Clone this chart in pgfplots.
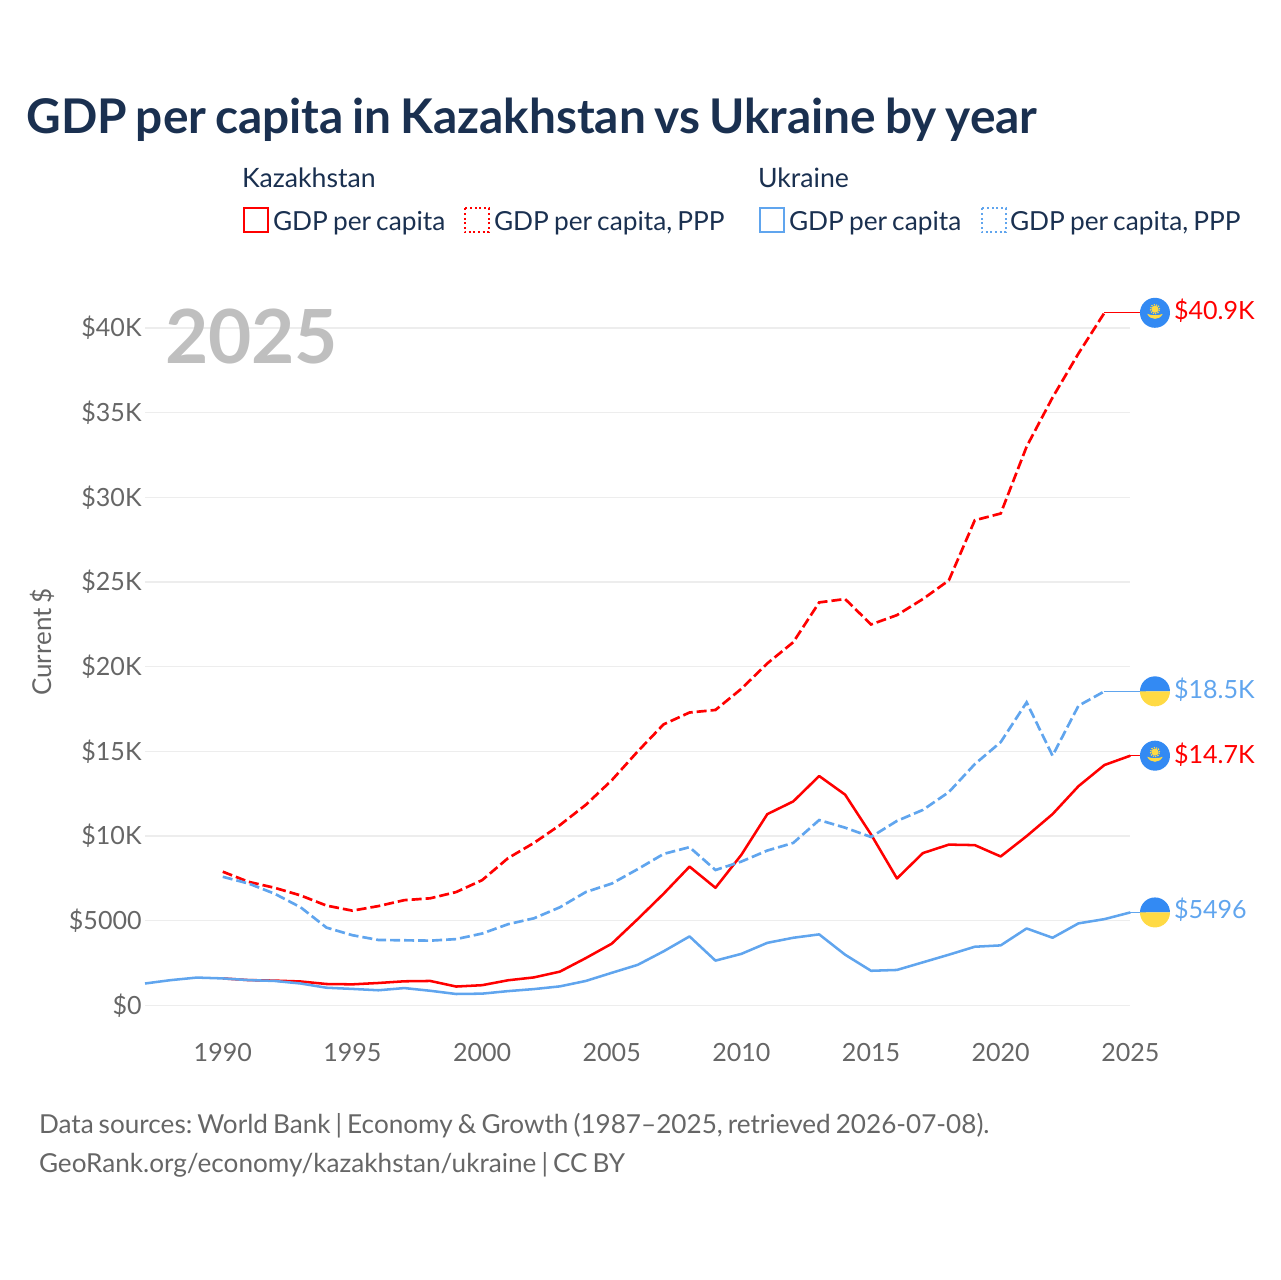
\documentclass[border=0pt]{standalone}
\usepackage{fontspec}
\setmainfont[WordSpace=0.75]{Lato}
\usepackage{pgfplots}
\pgfplotsset{compat=1.18}
\definecolor{navy}{HTML}{1A3050}
\definecolor{greytxt}{HTML}{666666}
\definecolor{skyline}{HTML}{60A5EE}
\definecolor{gridc}{HTML}{EDEDED}
\definecolor{flagblue}{HTML}{338AF3}
\definecolor{flagyellow}{HTML}{FFDA44}

\pgfdeclareplotmark{flagua}{%
  \pgfsetfillcolor{flagblue}\pgfpathmoveto{\pgfpoint{-11.25pt}{0pt}}%
  \pgfpatharc{180}{0}{11.25pt}\pgfpathclose\pgfusepathqfill
  \pgfsetfillcolor{flagyellow}\pgfpathmoveto{\pgfpoint{-11.25pt}{0pt}}%
  \pgfpatharc{180}{360}{11.25pt}\pgfpathclose\pgfusepathqfill
}
\pgfdeclareplotmark{flagkz}{%
  \pgfsetfillcolor{flagblue}\pgfpathcircle{\pgfpointorigin}{11.25pt}\pgfusepathqfill
  \pgfsetfillcolor{flagyellow}\pgfpathcircle{\pgfpoint{0pt}{2.7pt}}{2.7pt}\pgfusepathqfill
  \pgfsetstrokecolor{flagyellow}\pgfsetlinewidth{0.9pt}%
  \pgfsetdash{{0.9pt}{0.9pt}}{0pt}%
  \pgfpathcircle{\pgfpoint{0pt}{2.7pt}}{3.5pt}\pgfusepathqstroke
  \pgfpathmoveto{\pgfpoint{-5.8pt}{-0.8pt}}%
  \pgfpathcurveto{\pgfpoint{-3.5pt}{-5.8pt}}{\pgfpoint{3.5pt}{-5.8pt}}{\pgfpoint{5.8pt}{-0.8pt}}%
  \pgfpathcurveto{\pgfpoint{3pt}{-2.2pt}}{\pgfpoint{-3pt}{-2.2pt}}{\pgfpoint{-5.8pt}{-0.8pt}}%
  \pgfpathclose\pgfusepathqfill
}

\begin{document}
\frenchspacing
\begin{tikzpicture}
\path[use as bounding box] (0pt,0pt) rectangle (960pt,-960pt);
\begin{axis}[
  at={(108.75pt,-754.125pt)}, anchor=south west,
  scale only axis, width=739pt, height=533.5pt,
  xmin=1987, xmax=2025, ymin=0, ymax=42000,
  clip=false,
  scaled y ticks=false,
  axis line style={draw=none}, tick style={draw=none},
  ymajorgrids, grid style={gridc, line width=1pt},
  xtick={1990,1995,2000,2005,2010,2015,2020,2025},
  xticklabels={1990,1995,2000,2005,2010,2015,2020,2025},
  ytick={0,5000,10000,15000,20000,25000,30000,35000,40000},
  yticklabels={\$0,\$5000,\$10K,\$15K,\$20K,\$25K,\$30K,\$35K,\$40K},
  tick label style={font=\fontsize{18.8pt}{23pt}\selectfont, text=greytxt},
  xticklabel shift=25pt,
  yticklabel shift=-1pt,
]
% connectors to the end labels
\addplot[draw=red, line width=1pt] coordinates {(2024,40900)(2025.6,40900)};
\addplot[draw=skyline, line width=1pt] coordinates {(2024,18550)(2025.6,18550)};
\addplot[draw=red, line width=1pt] coordinates {(2025,14750)(2025.6,14750)};
\addplot[draw=skyline, line width=1pt] coordinates {(2025,5496)(2025.6,5496)};
% Kazakhstan GDP per capita
\addplot[red, line width=1.9pt, line join=round] coordinates {
(1990,1600)(1991,1500)(1992,1470)(1993,1420)(1994,1270)(1995,1250)(1996,1330)(1997,1430)(1998,1450)(1999,1120)
(2000,1200)(2001,1490)(2002,1660)(2003,2000)(2004,2800)(2005,3650)(2006,5100)(2007,6600)(2008,8200)(2009,6950)
(2010,8900)(2011,11300)(2012,12050)(2013,13550)(2014,12450)(2015,10100)(2016,7500)(2017,9000)(2018,9500)(2019,9470)
(2020,8800)(2021,10000)(2022,11300)(2023,12950)(2024,14200)(2025,14750)};
% Kazakhstan PPP
\addplot[red, line width=2pt, dash pattern=on 7.5pt off 3pt] coordinates {
(1990,7900)(1991,7300)(1992,6950)(1993,6500)(1994,5900)(1995,5600)(1996,5870)(1997,6220)(1998,6330)(1999,6700)
(2000,7400)(2001,8700)(2002,9600)(2003,10650)(2004,11850)(2005,13300)(2006,15000)(2007,16600)(2008,17300)(2009,17450)
(2010,18700)(2011,20200)(2012,21450)(2013,23800)(2014,24000)(2015,22500)(2016,23050)(2017,24000)(2018,25100)(2019,28650)
(2020,29050)(2021,33000)(2022,35900)(2023,38500)(2024,40900)};
% Ukraine GDP per capita
\addplot[skyline, line width=1.9pt, line join=round] coordinates {
(1987,1300)(1988,1500)(1989,1650)(1990,1600)(1991,1500)(1992,1450)(1993,1300)(1994,1050)(1995,980)(1996,900)(1997,1030)(1998,870)(1999,680)
(2000,700)(2001,850)(2002,970)(2003,1130)(2004,1450)(2005,1930)(2006,2400)(2007,3200)(2008,4080)(2009,2650)
(2010,3050)(2011,3700)(2012,4000)(2013,4200)(2014,3000)(2015,2050)(2016,2100)(2017,2550)(2018,3000)(2019,3470)
(2020,3550)(2021,4550)(2022,4000)(2023,4850)(2024,5100)(2025,5496)};
% Ukraine PPP
\addplot[skyline, line width=2pt, dash pattern=on 7.5pt off 3pt] coordinates {
(1990,7600)(1991,7200)(1992,6600)(1993,5800)(1994,4600)(1995,4150)(1996,3870)(1997,3850)(1998,3830)(1999,3920)
(2000,4250)(2001,4800)(2002,5150)(2003,5800)(2004,6700)(2005,7200)(2006,8050)(2007,8950)(2008,9350)(2009,8000)
(2010,8500)(2011,9150)(2012,9600)(2013,10950)(2014,10500)(2015,9950)(2016,10900)(2017,11550)(2018,12600)(2019,14250)
(2020,15550)(2021,17900)(2022,14750)(2023,17700)(2024,18550)};
% flags
\addplot[only marks, mark=flagkz] coordinates {(2025.95,40900)(2025.95,14750)};
\addplot[only marks, mark=flagua] coordinates {(2025.95,18550)(2025.95,5496)};
\end{axis}
\begin{scope}[x=0.75pt, y=-0.75pt, every node/.style={inner sep=0pt, outer sep=0pt, anchor=base west}]
\node[text=navy, font=\fontsize{35.85pt}{42pt}\selectfont\bfseries] at (26.5,134) {GDP per capita in Kazakhstan vs Ukraine by year};
\node[text=navy, font=\fontsize{20pt}{24pt}\selectfont] at (242,188) {Kazakhstan};
\node[text=navy, font=\fontsize{20pt}{24pt}\selectfont] at (758,188) {Ukraine};
\draw[red, line width=1.5pt] (243.5,208.5) rectangle (267.5,232.5);
\draw[red, line width=1.5pt, dotted] (464.5,208.5) rectangle (488.5,232.5);
\draw[skyline, line width=1.5pt] (759.5,208.5) rectangle (783.5,232.5);
\draw[skyline, line width=1.5pt, dotted] (981.5,208.5) rectangle (1005.5,232.5);
\node[text=navy, font=\fontsize{19.7pt}{24pt}\selectfont] at (273,230) {GDP per capita};
\node[text=navy, font=\fontsize{19.7pt}{24pt}\selectfont] at (494,230) {GDP per capita, PPP};
\node[text=navy, font=\fontsize{19.7pt}{24pt}\selectfont] at (789,230) {GDP per capita};
\node[text=navy, font=\fontsize{19.7pt}{24pt}\selectfont] at (1010,230) {GDP per capita, PPP};
\node[text=black!25, font=\fontsize{56pt}{60pt}\selectfont\bfseries] at (165,363) {2025};
\node[text=greytxt, font=\fontsize{19.5pt}{23pt}\selectfont, rotate=90, anchor=center] at (42,642) {Current \$};
\node[text=red, font=\fontsize{18.8pt}{23pt}\selectfont] at (1174,319) {\$40.9K};
\node[text=skyline, font=\fontsize{18.8pt}{23pt}\selectfont] at (1174,698) {\$18.5K};
\node[text=red, font=\fontsize{18.8pt}{23pt}\selectfont] at (1174,763) {\$14.7K};
\node[text=skyline, font=\fontsize{18.8pt}{23pt}\selectfont] at (1174,918) {\$5496};
\node[text=greytxt, font=\fontsize{19.6pt}{24pt}\selectfont] at (39,1133) {Data sources: World Bank | Economy \& Growth (1987–2025, retrieved 2026-07-08).};
\node[text=greytxt, font=\fontsize{19.6pt}{24pt}\selectfont] at (39,1172) {GeoRank.org/economy/kazakhstan/ukraine | CC BY};
\end{scope}
\end{tikzpicture}
\end{document}
